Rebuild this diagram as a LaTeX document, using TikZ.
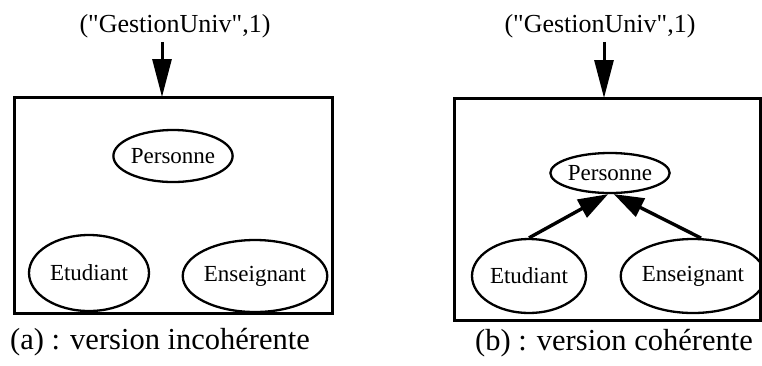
\documentclass[tikz,border=0pt]{standalone}
\usepackage{fontspec}
\setmainfont[Ligatures=TeXOff]{Liberation Serif}
\usepackage{tikz}
\usetikzlibrary{arrows.meta,shapes.geometric,positioning}

\tikzset{
  classe/.style={draw,ellipse,line width=2.3pt,inner sep=0pt,font=\fontsize{23}{25}\selectfont},
  cadre/.style={draw,rectangle,line width=3pt,inner sep=0pt},
  etiq/.style={inner sep=0pt,font=\fontsize{26}{28}\selectfont},
  legende/.style={inner sep=0pt,font=\fontsize{30.5}{33}\selectfont},
  herite/.style={-{Triangle[length=30pt,width=20pt]},line width=3.4pt},
  entree/.style={-{Triangle[length=38pt,width=19pt]},line width=3pt,shorten <=4pt}
}

\begin{document}
\begin{tikzpicture}[x=1pt,y=-1pt]
        \useasboundingbox (0,0) rectangle (762,365);
        % (a) version incoherente
        \node[cadre,minimum width=318pt,minimum height=216pt] (cadreA) at (173,205) {};
        \node[etiq] (nomA) at (175,26) {("GestionUniv",1)};
        \coordinate (hautA) at (162,97);
        \node[classe,minimum width=116pt,minimum height=52pt] (persA) at (173,156) {Personne};
        \node[classe,minimum width=120pt,minimum height=76pt] (etuA) at (89,273) {Etudiant};
        \node[classe,minimum width=120pt,minimum height=72pt] (ensA) at (255,276) {Enseignant};
        \node[legende] (legA) at (160,342) {(a) : version incohérente};
        \draw[entree] (nomA.south -| hautA) -- (hautA);

        % (b) version coherente
        \node[cadre,minimum width=306pt,minimum height=222pt] (cadreB) at (607,209) {};
        \node[etiq] (nomB) at (600,26) {("GestionUniv",1)};
        \coordinate (hautB) at (604,98);
        \node[classe,minimum width=106pt,minimum height=40pt] (persB) at (610,173) {Personne};
        \node[classe,minimum width=114pt,minimum height=74pt] (etuB) at (529,276) {Etudiant};
        \node[classe,minimum width=120pt,minimum height=74pt] (ensB) at (693,276) {Enseignant};
        \node[legende] (legB) at (614,343) {(b) : version cohérente};
        \draw[entree] (nomB.south -| hautB) -- (hautB);
        \path[herite]
        (etuB.north) edge (persB.-95)
        (ensB.78) edge (persB.-80)
        ;
\end{tikzpicture}
\end{document}
